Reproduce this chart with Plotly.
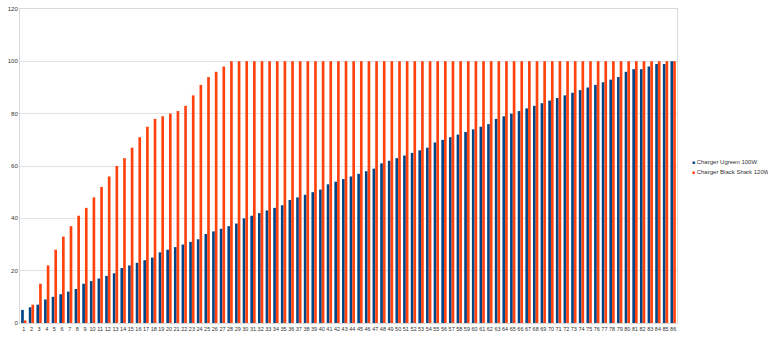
import plotly.graph_objects as go

categories = [str(i) for i in range(1, 87)]

ugreen_100w = [5, 6, 7, 9, 10, 11, 12, 13, 15, 16,
               17, 18, 19, 21, 22, 23, 24, 25, 27, 28,
               29, 30, 31, 32, 34, 35, 36, 37, 38, 40,
               41, 42, 43, 44, 45, 47, 48, 49, 50, 51,
               53, 54, 55, 56, 57, 58, 59, 61, 62, 63,
               64, 65, 66, 67, 69, 70, 71, 72, 73, 74,
               75, 76, 78, 79, 80, 81, 82, 83, 84, 85,
               86, 87, 88, 89, 90, 91, 92, 93, 94, 96,
               97, 97, 98, 99, 99, 100]

black_shark_120w = [1, 7, 15, 22, 28, 33, 37, 41, 44, 48,
                    52, 56, 60, 63, 67, 71, 75, 78, 79, 80,
                    81, 83, 87, 91, 94, 96, 98, 100, 100, 100,
                    100, 100, 100, 100, 100, 100, 100, 100, 100, 100,
                    100, 100, 100, 100, 100, 100, 100, 100, 100, 100,
                    100, 100, 100, 100, 100, 100, 100, 100, 100, 100,
                    100, 100, 100, 100, 100, 100, 100, 100, 100, 100,
                    100, 100, 100, 100, 100, 100, 100, 100, 100, 100,
                    100, 100, 100, 100, 100, 100]

series_names = ["Charger Ugreen 100W", "Charger Black Shark 120W"]
series_colors = ["#004586", "#ff420e"]
y_ticks = [0, 20, 40, 60, 80, 100, 120]

fig = go.Figure()
for name, vals, col in zip(series_names, [ugreen_100w, black_shark_120w], series_colors):
    fig.add_trace(go.Bar(x=categories, y=vals, name=name,
                         marker=dict(color=col, line=dict(width=0))))

# compact legend drawn as text (LibreOffice-style small legend)
legend_y = [0.513, 0.481]
for name, col, ly in zip(series_names, series_colors, legend_y):
    fig.add_annotation(xref="paper", yref="paper", x=1.0195, y=ly,
                       xanchor="left", yanchor="middle", showarrow=False,
                       text=f"<span style='color:{col};font-size:5px'>■</span> {name}",
                       font=dict(size=6, color="#333333"))

fig.update_layout(
    width=768, height=338,
    margin=dict(l=20, r=91, t=9, b=15, autoexpand=False),
    paper_bgcolor="white", plot_bgcolor="white",
    barmode="group", bargap=0.3, bargroupgap=0,
    font=dict(family="Liberation Sans, Arial, sans-serif", size=6, color="#333333"),
    showlegend=False,
)
fig.update_xaxes(type="category", tickangle=0, ticks="", ticklen=0,
                 showgrid=False, showline=True, linecolor="#d9d9d9", mirror=True,
                 tickfont=dict(size=5.5))
fig.update_yaxes(range=[0, 120], tickvals=y_ticks, showgrid=True, gridcolor="#e3e3e3",
                 zeroline=False, showline=True, linecolor="#d9d9d9", mirror=True,
                 ticks="", tickfont=dict(size=6))

fig.write_html("out.html")
